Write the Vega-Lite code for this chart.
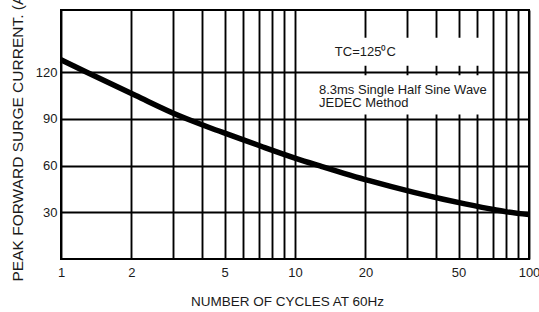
{
  "$schema": "https://vega.github.io/schema/vega-lite/v6.json",
  "width": 468,
  "height": 249,
  "autosize": {"type": "none"},
  "padding": {"left": 61, "top": 10, "right": 10, "bottom": 53},
  "background": "white",
  "config": {
    "view": {"stroke": "black", "strokeWidth": 2},
    "font": "Liberation Sans",
    "axis": {
      "domain": false,
      "ticks": false,
      "grid": true,
      "gridColor": "black",
      "gridWidth": 1.9,
      "gridOpacity": 1,
      "labelFont": "Liberation Sans",
      "labelFontSize": 13,
      "labelColor": "#1a1a1a",
      "titleFont": "Liberation Sans",
      "titleFontWeight": "normal",
      "titleColor": "#1a1a1a"
    }
  },
  "datasets": {
    "curve": [
      {"cycles": 1, "current": 128},
      {"cycles": 1.288, "current": 120},
      {"cycles": 2.086, "current": 105},
      {"cycles": 3.203, "current": 92},
      {"cycles": 4.3, "current": 84.5},
      {"cycles": 5.364, "current": 79.3},
      {"cycles": 7.205, "current": 72.3},
      {"cycles": 10.07, "current": 64.7},
      {"cycles": 12.79, "current": 59.8},
      {"cycles": 20.77, "current": 50.3},
      {"cycles": 32.25, "current": 42.8},
      {"cycles": 43.03, "current": 38.4},
      {"cycles": 53.27, "current": 35.4},
      {"cycles": 71.55, "current": 31.6},
      {"cycles": 80.3, "current": 30.3},
      {"cycles": 100, "current": 28.5}
    ],
    "boxes": [
      {"x1": 12.2, "x2": 68, "y1": 124.1, "y2": 142.2},
      {"x1": 12.2, "x2": 68, "y1": 92.8, "y2": 118.1}
    ],
    "notes": [
      {"cycles": 14.8, "current": 133, "label": "TC=125⁰C"},
      {"cycles": 12.66, "current": 108.9, "label": "8.3ms Single Half Sine Wave"},
      {"cycles": 12.66, "current": 100.2, "label": "JEDEC Method"}
    ]
  },
  "layer": [
    {
      "data": {"name": "boxes"},
      "mark": {"type": "rect", "fill": "white", "stroke": null},
      "encoding": {
        "x": {
          "field": "x1", "type": "quantitative",
          "scale": {"type": "log", "domain": [1, 100]},
          "axis": {
            "values": [1, 2, 3, 4, 5, 6, 7, 8, 9, 10, 20, 30, 40, 50, 60, 70, 80, 90, 100],
            "labelExpr": "indexof([1,2,5,10,20,50,100], datum.value) >= 0 ? format(datum.value, 'd') : ''",
            "labelOverlap": false,
            "labelPadding": 7,
            "labelFlush": false,
            "title": "NUMBER OF CYCLES AT 60Hz",
            "titleFontSize": 13.5,
            "titleBaseline": "alphabetic",
            "titleX": 226,
            "titleY": 46
          }
        },
        "x2": {"field": "x2"},
        "y": {
          "field": "y1", "type": "quantitative",
          "scale": {"domain": [0, 150]},
          "axis": {
            "values": [30, 60, 90, 120],
            "labelPadding": 4,
            "title": "PEAK FORWARD SURGE CURRENT. (A)",
            "titleFontSize": 15.5,
            "titleAngle": 270,
            "titleAlign": "left",
            "titleBaseline": "alphabetic",
            "titleX": -38.3,
            "titleY": 271
          }
        },
        "y2": {"field": "y2"}
      }
    },
    {
      "data": {"name": "curve"},
      "mark": {"type": "line", "color": "black", "strokeWidth": 5.5, "interpolate": "monotone"},
      "encoding": {
        "x": {"field": "cycles", "type": "quantitative"},
        "y": {"field": "current", "type": "quantitative"}
      }
    },
    {
      "data": {"name": "notes"},
      "mark": {"type": "text", "align": "left", "baseline": "middle", "fontSize": 13, "font": "Liberation Sans", "color": "#1a1a1a"},
      "encoding": {
        "x": {"field": "cycles", "type": "quantitative"},
        "y": {"field": "current", "type": "quantitative"},
        "text": {"field": "label"}
      }
    }
  ]
}
